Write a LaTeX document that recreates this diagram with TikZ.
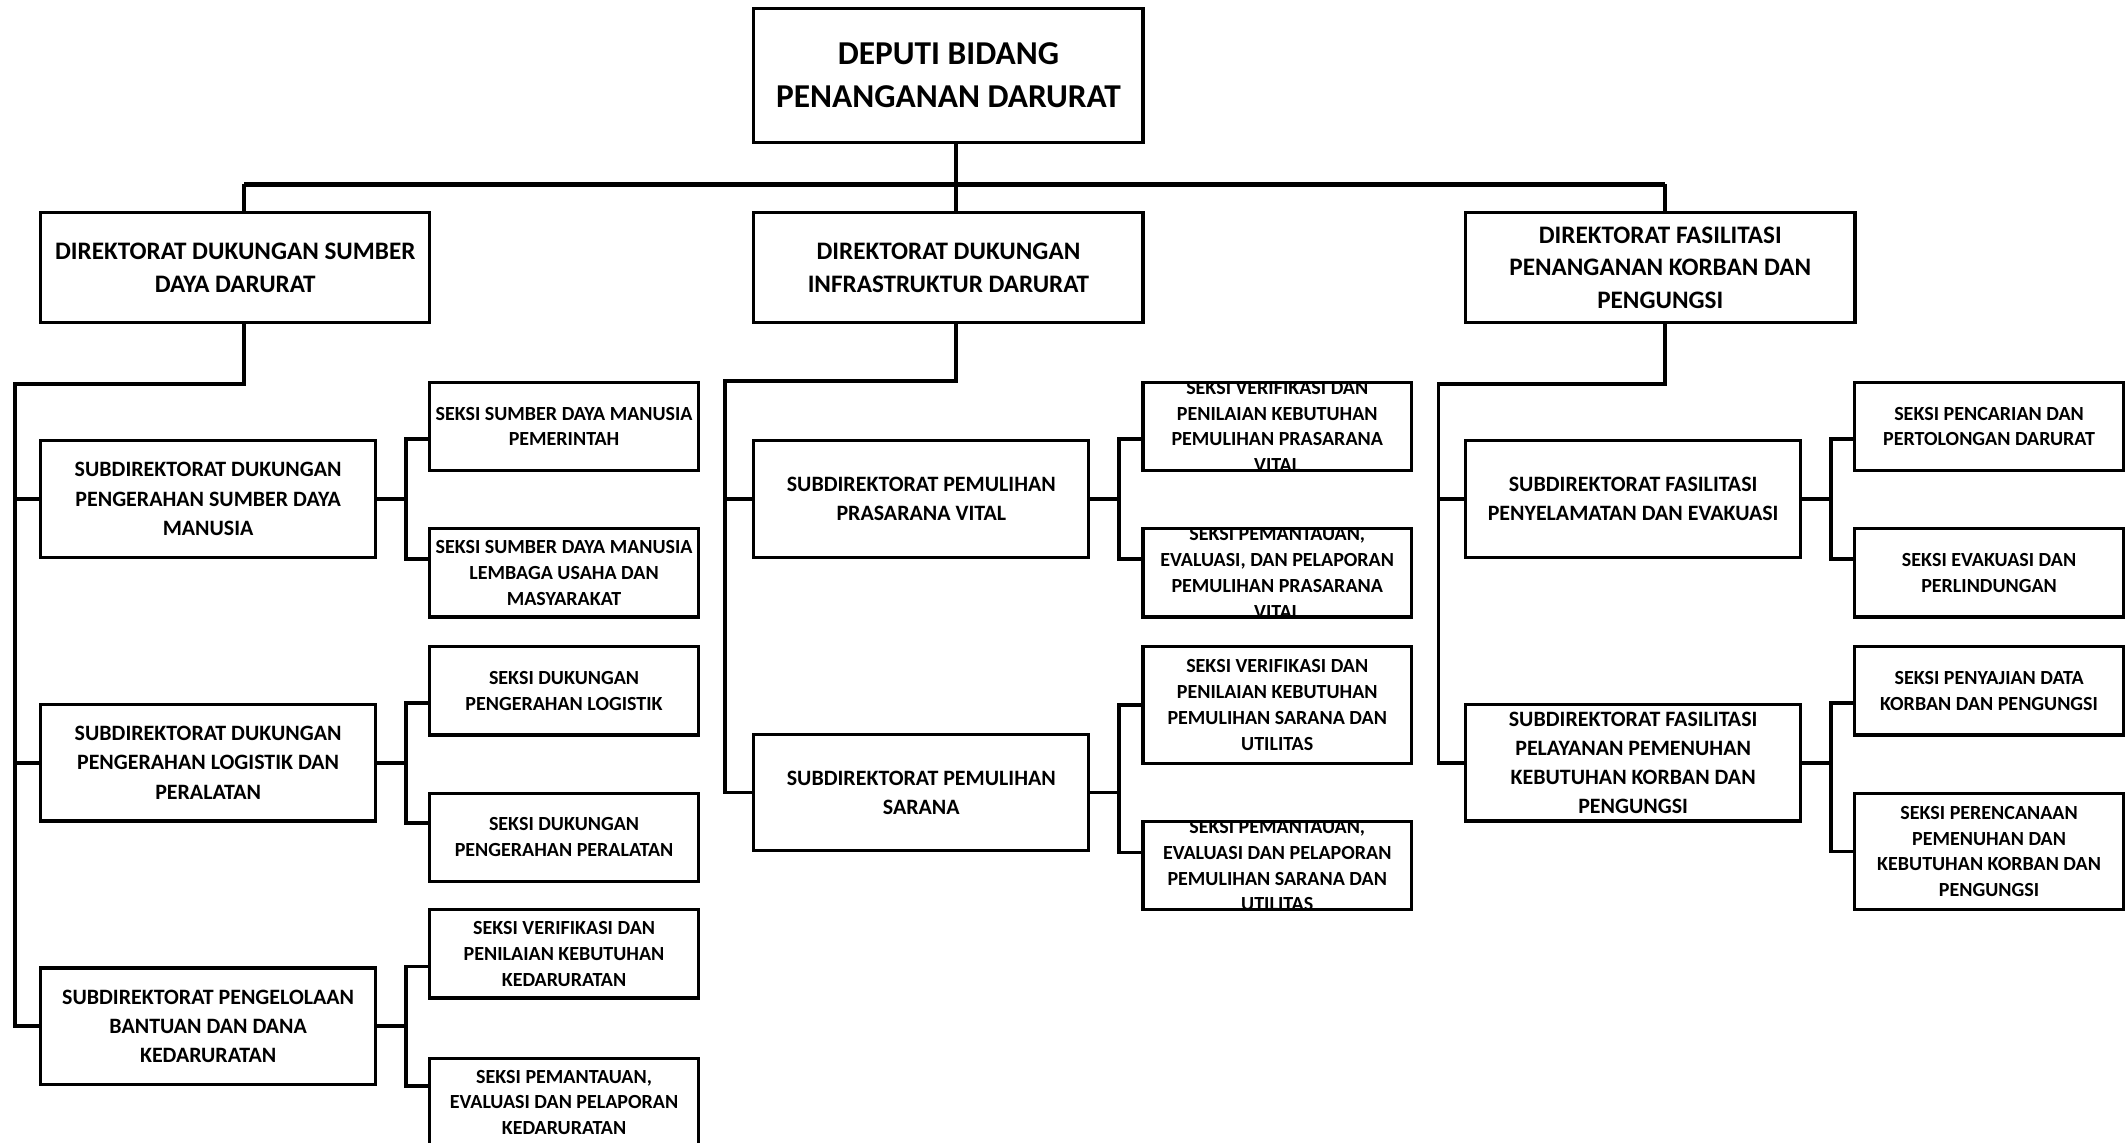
\documentclass[tikz,border=0pt]{standalone}
\usepackage{fontspec}
\setmainfont{Carlito}

\begin{document}
\begin{tikzpicture}[x=0.025cm, y=-0.025cm]

    % --- Stil kotak dan garis ---
    \tikzset{
        box/.style={rectangle, draw=black, line width=1.7pt, inner sep=0pt, align=center},
        deputibox/.style={box, minimum width=7.175cm, minimum height=2.475cm, font=\fontsize{17.5}{22.8}\selectfont\bfseries},
        dirbox/.style={box, minimum width=7.175cm, minimum height=2.025cm, font=\fontsize{13.2}{17}\selectfont\bfseries},
        subbox/.style={box, minimum width=6.175cm, minimum height=2.15cm, font=\fontsize{11.5}{15.3}\selectfont\bfseries},
        seksifont/.style={font=\fontsize{10.5}{13.5}\selectfont\bfseries},
        seksibox/.style={box, seksifont, minimum width=4.95cm, minimum height=1.625cm},
        seksitinggi/.style={seksibox, minimum height=2.15cm},
        potong/.style 2 args={path picture={\node[seksifont, align=center, inner sep=0pt] (#1) at (path picture bounding box.center) {#2};}},
        garis/.style={line width=2pt},
        garisatas/.style={line width=2pt},
        bus/.style={line width=2.3pt}
    }

    \useasboundingbox (0,0) rectangle (1568,843);

    % --- Deputi dan direktorat ---
    \node[deputibox] (deputi) at (699.5,55.5) {DEPUTI BIDANG\\PENANGANAN DARURAT};
    \node[dirbox] (dir1) at (173.5,197.5) {DIREKTORAT DUKUNGAN SUMBER\\DAYA DARURAT};
    \node[dirbox] (dir2) at (699.5,197.5) {DIREKTORAT DUKUNGAN\\INFRASTRUKTUR DARURAT};
    \node[dirbox] (dir3) at (1224.5,197.5) {DIREKTORAT FASILITASI\\PENANGANAN KORBAN DAN\\PENGUNGSI};

    % --- Subdirektorat ---
    \node[subbox] (sub1a) at (153.5,368) {SUBDIREKTORAT DUKUNGAN\\PENGERAHAN SUMBER DAYA\\MANUSIA};
    \node[subbox] (sub1b) at (153.5,562.5) {SUBDIREKTORAT DUKUNGAN\\PENGERAHAN LOGISTIK DAN\\PERALATAN};
    \node[subbox] (sub1c) at (153.5,757) {SUBDIREKTORAT PENGELOLAAN\\BANTUAN DAN DANA\\KEDARURATAN};
    \node[subbox] (sub2a) at (679.5,368) {SUBDIREKTORAT PEMULIHAN\\PRASARANA VITAL};
    \node[subbox] (sub2b) at (679.5,584.5) {SUBDIREKTORAT PEMULIHAN\\SARANA};
    \node[subbox] (sub3a) at (1204.5,368) {SUBDIREKTORAT FASILITASI\\PENYELAMATAN DAN EVAKUASI};
    \node[subbox] (sub3b) at (1204.5,562.5) {SUBDIREKTORAT FASILITASI\\PELAYANAN PEMENUHAN\\KEBUTUHAN KORBAN DAN\\PENGUNGSI};

    % --- Seksi ---
    \node[seksibox] (s1) at (416,314.5) {SEKSI SUMBER DAYA MANUSIA\\PEMERINTAH};
    \node[seksibox] (s2) at (416,422.5) {SEKSI SUMBER DAYA MANUSIA\\LEMBAGA USAHA DAN\\MASYARAKAT};
    \node[seksibox] (s3) at (416,509.5) {SEKSI DUKUNGAN\\PENGERAHAN LOGISTIK};
    \node[seksibox] (s4) at (416,617.5) {SEKSI DUKUNGAN\\PENGERAHAN PERALATAN};
    \node[seksibox] (s5) at (416,703.5) {SEKSI VERIFIKASI DAN\\PENILAIAN KEBUTUHAN\\KEDARURATAN};
    \node[seksibox] (s6) at (416,813) {SEKSI PEMANTAUAN,\\EVALUASI DAN PELAPORAN\\KEDARURATAN};

    \node[seksibox, potong={s7-teks}{SEKSI VERIFIKASI DAN\\PENILAIAN KEBUTUHAN\\PEMULIHAN PRASARANA\\VITAL}] (s7) at (942,314.5) {};
    \node[seksibox, potong={s8-teks}{SEKSI PEMANTAUAN,\\EVALUASI, DAN PELAPORAN\\PEMULIHAN PRASARANA\\VITAL}] (s8) at (942,422.5) {};
    \node[seksitinggi] (s9) at (942,520) {SEKSI VERIFIKASI DAN\\PENILAIAN KEBUTUHAN\\PEMULIHAN SARANA DAN\\UTILITAS};
    \node[seksibox, potong={s10-teks}{SEKSI PEMANTAUAN,\\EVALUASI DAN PELAPORAN\\PEMULIHAN SARANA DAN\\UTILITAS}] (s10) at (942,638.5) {};

    \node[seksibox] (s11) at (1467,314.5) {SEKSI PENCARIAN DAN\\PERTOLONGAN DARURAT};
    \node[seksibox] (s12) at (1467,422.5) {SEKSI EVAKUASI DAN\\PERLINDUNGAN};
    \node[seksibox] (s13) at (1467,509.5) {SEKSI PENYAJIAN DATA\\KORBAN DAN PENGUNGSI};
    \node[seksitinggi] (s14) at (1467,628) {SEKSI PERENCANAAN\\PEMENUHAN DAN\\KEBUTUHAN KORBAN DAN\\PENGUNGSI};

    % --- Garis deputi ke direktorat ---
    \coordinate (bus-l) at (180,136);
    \coordinate (bus-m) at (705,136);
    \coordinate (bus-r) at (1228,136);
    \draw[garisatas] (deputi.south -| bus-m) -- (dir2.north -| bus-m);
    \draw[garisatas] (dir1.north -| bus-l) -- (bus-l);
    \draw[garisatas] (dir3.north -| bus-r) -- (bus-r);
    \draw[bus] (bus-l) -- (bus-r);

    % --- Garis direktorat ke subdirektorat ---
    \coordinate (cab-l) at (11,283);
    \draw[garis] (dir1.south -| bus-l) |- (cab-l) |- (sub1c.west);
    \draw[garis] (sub1a.west -| cab-l) -- (sub1a.west);
    \draw[garis] (sub1b.west -| cab-l) -- (sub1b.west);

    \coordinate (cab-m) at (535,281);
    \draw[garis] (dir2.south -| bus-m) |- (cab-m) |- (sub2b.west);
    \draw[garis] (sub2a.west -| cab-m) -- (sub2a.west);

    \coordinate (cab-r) at (1061,283);
    \draw[garis] (dir3.south -| bus-r) |- (cab-r) |- (sub3b.west);
    \draw[garis] (sub3a.west -| cab-r) -- (sub3a.west);

    % --- Garis subdirektorat ke seksi ---
    \draw[garis] (sub1a.east) -- ++(21,0) coordinate (k1);
    \draw[garis] (s1.west |- sub1a.north) -| (k1) |- (s2.west |- sub1a.south);
    \draw[garis] (sub1b.east) -- ++(21,0) coordinate (k2);
    \draw[garis] (s3.west |- sub1b.north) -| (k2) |- (s4.west |- sub1b.south);
    \draw[garis] (sub1c.east) -- ++(21,0) coordinate (k3);
    \draw[garis] (s5.west |- sub1c.north) -| (k3) |- (s6.west |- sub1c.south);

    \draw[garis] (sub2a.east) -- ++(21,0) coordinate (k4);
    \draw[garis] (s7.west |- sub2a.north) -| (k4) |- (s8.west |- sub2a.south);
    \draw[garis] (sub2b.east) -- ++(21,0) coordinate (k5);
    \draw[garis] (s9.west) -| (k5) |- (s10.west |- sub2b.south);

    \draw[garis] (sub3a.east) -- ++(21,0) coordinate (k6);
    \draw[garis] (s11.west |- sub3a.north) -| (k6) |- (s12.west |- sub3a.south);
    \draw[garis] (sub3b.east) -- ++(21,0) coordinate (k7);
    \draw[garis] (s13.west |- sub3b.north) -| (k7) |- (s14.west);

\end{tikzpicture}
\end{document}
